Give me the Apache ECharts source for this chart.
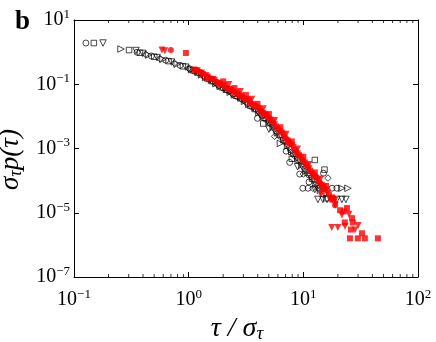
<!DOCTYPE html>
<html><head><meta charset="utf-8">
<script src="https://cdn.jsdelivr.net/npm/echarts@6/dist/echarts.min.js"></script>
<style>html,body{margin:0;padding:0;background:#fff}#c{width:436px;height:342px}</style>
</head><body><div id="c"></div>
<script>
// axis extents & ticks
const xMin = 0.1, xMax = 100;
const yMin = 1e-7, yMax = 10;
const xMinorTicks = [0.2,0.3,0.4,0.5,0.6,0.7,0.8,0.9,2,3,4,5,6,7,8,9,20,30,40,50,60,70,80,90];

// black open markers
const blackCircle = [[0.127,1.92],[0.355,0.989],[0.473,0.759],[0.631,0.562],[0.841,0.389],[1.12,0.257],[1.50,0.143],[2.00,0.0759],[2.66,0.0412],[3.55,0.0200],[4.73,0.00813],[6.31,0.00240],[8.41,6.03e-4],[11.2,1.51e-4],[15.0,3.76e-5],
  [3.98,0.0087],[7.08,8.3e-4],[11.2,9.1e-5],
  [1.03,0.300],[1.37,0.173],[1.83,0.0917],[2.44,0.0499],[3.25,0.0254],[4.34,0.0110],[5.79,0.00351],[7.72,9.1e-4],[10.3,2.29e-4],[13.7,5.8e-5],
  [7.6,3.7e-4],[9.3,1.6e-4],[9.9,5.8e-5],[11.0,5.8e-5],[17.8,5.8e-5],[19.6,5.8e-5],[15.0,1.7e-4]];
const blackSquare = [[0.149,1.92],[0.302,1.16],[0.376,0.955],[0.501,0.716],[0.668,0.525],[0.891,0.363],[1.19,0.232],[1.58,0.126],[2.11,0.0676],[2.82,0.0363],[3.76,0.0170],[5.01,0.00661],[6.68,0.00182],[8.91,4.57e-4],[11.9,1.16e-4],[15.8,2.82e-5],
  [4.47,0.0060],[7.94,4.8e-4],
  [1.09,0.271],[1.455,0.152],[1.94,0.0808],[2.58,0.0439],[3.45,0.0216],[4.60,0.00902],[6.13,0.00272],[8.17,6.9e-4],[10.9,1.74e-4],
  [12.6,4.4e-4],[15.3,2.2e-4]];
const blackTriDown = [[0.179,1.92],[0.347,1.12],[0.398,0.912],[0.531,0.676],[0.708,0.490],[0.944,0.339],[1.26,0.209],[1.68,0.111],[2.24,0.0603],[2.99,0.0316],[3.98,0.0145],[5.31,0.00513],[7.08,0.00138],[9.44,3.47e-4],[12.6,8.91e-5],
  [5.01,0.0040],[8.91,2.7e-4],[12.6,5.3e-5],
  [1.155,0.244],[1.54,0.134],[2.05,0.0716],[2.74,0.0387],[3.65,0.0184],[4.87,0.00733],[6.49,0.00209],[8.66,5.25e-4],[11.5,1.32e-4],
  [13.4,2.6e-5],[14.8,2.6e-5],[16.1,2.6e-5],[17.8,2.6e-5],[19.6,2.6e-5],[21.7,2.6e-5],[23.5,2.6e-5]];
const blackDiamond = [[0.422,0.861],[0.562,0.631],[0.750,0.457],[1.00,0.316],[1.33,0.184],[1.78,0.0977],[2.37,0.0531],[3.16,0.0275],[4.22,0.0120],[5.62,0.00398],[7.50,0.00105],[10.0,2.63e-4],[13.3,6.68e-5],
  [5.62,0.0024],[10.0,1.6e-4],
  [1.225,0.220],[1.63,0.118],[2.17,0.0638],[2.90,0.0339],[3.87,0.0157],[5.16,0.00582],[6.88,0.00158],[9.17,3.98e-4],[12.2,1.02e-4],
  [12.1,5.8e-5],[13.4,5.8e-5],[16.4,1.2e-4]];
const blackTriRight = [[0.257,1.25],[0.447,0.813],[0.596,0.596],[0.794,0.422],[1.06,0.285],[1.41,0.162],[1.88,0.0861],[2.51,0.0468],[3.35,0.0234],[4.47,0.0100],[5.96,0.00309],[7.94,7.94e-4],[10.6,2.00e-4],[14.1,5.01e-5],
  [6.31,0.00144],
  [1.295,0.196],[1.73,0.104],[2.30,0.0566],[3.07,0.0295],[4.10,0.0132],[5.46,0.00452],[7.29,0.00120],[9.72,3.02e-4],[12.9,7.7e-5],
  [21.7,5.8e-5],[24.5,5.8e-5]];

// red filled markers
const redSquare = [[0.946,0.94],[1.12,0.288],[1.33,0.209],[1.58,0.148],[1.88,0.102],[2.24,0.0724],[2.66,0.0501],[3.16,0.0339],[3.76,0.0214],[4.47,0.0129],[5.31,0.00692],[6.31,0.00339],[7.50,0.00158],[8.91,7.08e-4],[10.6,3.09e-4],[12.6,1.35e-4],[15.0,6.61e-5],[17.8,3.02e-5],
  [2.00,0.123],[2.51,0.076],[3.16,0.046],[3.98,0.0246],[5.01,0.0118],[6.31,0.0046],[7.94,0.00166],[10.0,5.5e-4],[12.6,1.8e-4],[15.8,6.8e-5],
  [1.155,0.275],[1.455,0.176],[1.83,0.109],[2.30,0.0684],[2.90,0.0412],[3.65,0.0232],[4.60,0.0118],[5.79,0.00485],[7.29,0.00180],[9.17,6.17e-4],[11.5,2.04e-4],[14.5,7.4e-5],[18.3,2.69e-5],
  [14.5,4.4e-5],[24.0,1.4e-5],[25.5,1.6e-6],[29.9,1.6e-6],[34.4,1.6e-6],[44.7,1.6e-6],[20.9,1.2e-5],[26.6,6.8e-6],[32.5,2.3e-6],[22.5,1.1e-5],[27.0,5.0e-6],[23.0,5.0e-6],[26.0,3.0e-6]];
const redTriDown = [[0.585,1.16],[0.62,1.10],[1.19,0.263],[1.41,0.186],[1.68,0.132],[2.00,0.0912],[2.37,0.0646],[2.82,0.0437],[3.35,0.0295],[3.98,0.0182],[4.73,0.0107],[5.62,0.00550],[6.68,0.00263],[7.94,0.00123],[9.44,5.37e-4],[11.2,2.34e-4],[13.3,1.05e-4],[15.8,5.01e-5],[18.8,2.40e-5],
  [2.24,0.098],[2.82,0.059],[3.55,0.034],[4.47,0.0174],[5.62,0.0074],[7.08,0.0028],[8.91,9.6e-4],[11.2,3.2e-4],[14.1,1.12e-4],
  [1.295,0.224],[1.63,0.140],[2.05,0.0861],[2.58,0.0531],[3.25,0.0316],[4.10,0.0168],[5.16,0.00776],[6.49,0.00299],[8.17,0.00107],[10.3,3.55e-4],[12.9,1.19e-4],[16.3,4.36e-5],
  [17.7,3.5e-6],[20.0,3.5e-6],[23.1,3.8e-6],[17.1,2.5e-5],[21.7,8.5e-6],[28.2,2.9e-6],[19.0,1.7e-5],[25.0,9.0e-6],[30.0,4.0e-6]];
const redCircle = [[0.70,1.16],[1.45,0.155],[1.26,0.240],[1.50,0.166],[1.78,0.117],[2.11,0.0813],[2.51,0.0562],[2.99,0.0389],[3.55,0.0251],[4.22,0.0155],[5.01,0.00871],[5.96,0.00427],[7.08,0.00204],[8.41,9.33e-4],[10.0,4.07e-4],[11.9,1.78e-4],[14.1,8.32e-5],[16.8,3.80e-5],[18.9,1.7e-5],
  [2.17,0.0767],[2.74,0.0468],[3.45,0.0272],[4.34,0.0141],[5.46,0.00617],[6.88,0.00232],[8.66,8.1e-4],[10.9,2.69e-4],[13.7,9.3e-5],
  [2.44,0.0602],[3.07,0.0363],[3.87,0.0197],[4.87,0.00965],[6.13,0.00380],[7.72,0.00139],[9.72,4.67e-4],[12.2,1.55e-4],[15.4,5.75e-5]];

const FONT = 'Liberation Serif';
function supLabel(v){
  const e = Math.round(Math.log10(v));
  const s = e < 0 ? '\u2212' + (-e) : String(e);
  return '{b|10}{s|' + s + '}';
}
const labelRich = {
  b: {fontFamily: FONT, fontSize: 20, color: '#000'},
  s: {fontFamily: FONT, fontSize: 13, color: '#000', padding: [0,0,11,0]}
};
const axisLineStyle = {color: '#000', width: 1};

function openSeries(data, symbol, rot, size){
  return {type:'scatter', data, symbol, symbolRotate: rot, symbolSize: size, xAxisIndex:0, yAxisIndex:0,
    itemStyle:{color:'rgba(0,0,0,0)', borderColor:'#000', borderWidth:0.9}, silent:true, animation:false};
}
function redSeries(data, symbol, rot, size){
  return {type:'scatter', data, symbol, symbolRotate: rot, symbolSize: size, xAxisIndex:0, yAxisIndex:0,
    itemStyle:{color:'#ff0000'}, silent:true, animation:false};
}

const chart = echarts.init(document.getElementById('c'), null, {renderer:'canvas'});
chart.setOption({
  animation: false,
  backgroundColor: '#fff',
  grid: {left: 74, right: 18, top: 20, bottom: 65, containLabel: false, outerBoundsMode: 'none'},
  graphic: [{type:'text', left: 15, top: 9, style:{text:'b', font:'bold 27px "Liberation Serif"', fill:'#000'}}],
  xAxis: [{
    type:'log', logBase:10, min:xMin, max:xMax, position:'bottom',
    axisLine:{show:true, onZero:false, lineStyle:axisLineStyle},
    axisTick:{show:true, inside:true, length:5, lineStyle:axisLineStyle},
    axisLabel:{show:true, margin:11, formatter: supLabel, rich: labelRich, showMinLabel:true, showMaxLabel:true},
    splitLine:{show:false},
    name:'{m|τ / σ}{sub|τ}', nameLocation:'middle', nameGap:22,
    nameTextStyle:{fontFamily:FONT, fontSize:28, fontStyle:'italic', color:'#000', padding:[0,18,0,0],
      rich:{m:{fontFamily:FONT, fontSize:28, fontStyle:'italic', color:'#000'},
            sub:{fontFamily:FONT, fontSize:19, fontStyle:'italic', color:'#000', padding:[10,0,0,0]}}}
  },{
    type:'log', logBase:10, min:xMin, max:xMax, position:'top',
    axisLine:{show:true, onZero:false, lineStyle:axisLineStyle},
    axisTick:{show:true, inside:true, length:5, lineStyle:axisLineStyle},
    axisLabel:{show:false}, splitLine:{show:false}
  }],
  yAxis: [{
    type:'log', logBase:10, min:yMin, max:yMax, interval:2, position:'left',
    axisLine:{show:true, onZero:false, lineStyle:axisLineStyle},
    axisTick:{show:true, inside:true, length:5, lineStyle:axisLineStyle},
    axisLabel:{show:true, margin:4, formatter: supLabel, rich: labelRich, showMinLabel:true, showMaxLabel:true},
    splitLine:{show:false},
    name:'{m|σ}{sub|τ}{m|p(τ)}', nameLocation:'middle', nameGap:34, nameRotate:90,
    nameTextStyle:{fontFamily:FONT, fontSize:27, fontStyle:'italic', color:'#000', padding:[0,22,0,0],
      rich:{m:{fontFamily:FONT, fontSize:27, fontStyle:'italic', color:'#000'},
            sub:{fontFamily:FONT, fontSize:18, fontStyle:'italic', color:'#000', padding:[10,0,0,0]}}}
  },{
    type:'log', logBase:10, min:yMin, max:yMax, interval:2, position:'right',
    axisLine:{show:true, onZero:false, lineStyle:axisLineStyle},
    axisTick:{show:true, inside:true, length:5, lineStyle:axisLineStyle},
    axisLabel:{show:false}, splitLine:{show:false}
  }],
  series: [
    openSeries(blackCircle, 'circle', 0, 6),
    openSeries(blackSquare, 'rect', 0, 5.5),
    openSeries(blackTriDown, 'triangle', 180, 6.5),
    openSeries(blackDiamond, 'diamond', 0, 6.5),
    openSeries(blackTriRight, 'triangle', -90, 6.5),
    redSeries(redSquare, 'rect', 0, 6),
    redSeries(redTriDown, 'triangle', 180, 7),
    redSeries(redCircle, 'circle', 0, 6),
    {type:'scatter', xAxisIndex:0, yAxisIndex:0, clip:false, silent:true, animation:false,
     data: xMinorTicks.map(v => [v, yMin]), symbol:'rect', symbolSize:[1,3], symbolOffset:[0,-1.5],
     itemStyle:{color:'#000'}},
    {type:'scatter', xAxisIndex:0, yAxisIndex:0, clip:false, silent:true, animation:false,
     data: xMinorTicks.map(v => [v, yMax]), symbol:'rect', symbolSize:[1,3], symbolOffset:[0,1.5],
     itemStyle:{color:'#000'}}
  ]
});
</script>
</body></html>
